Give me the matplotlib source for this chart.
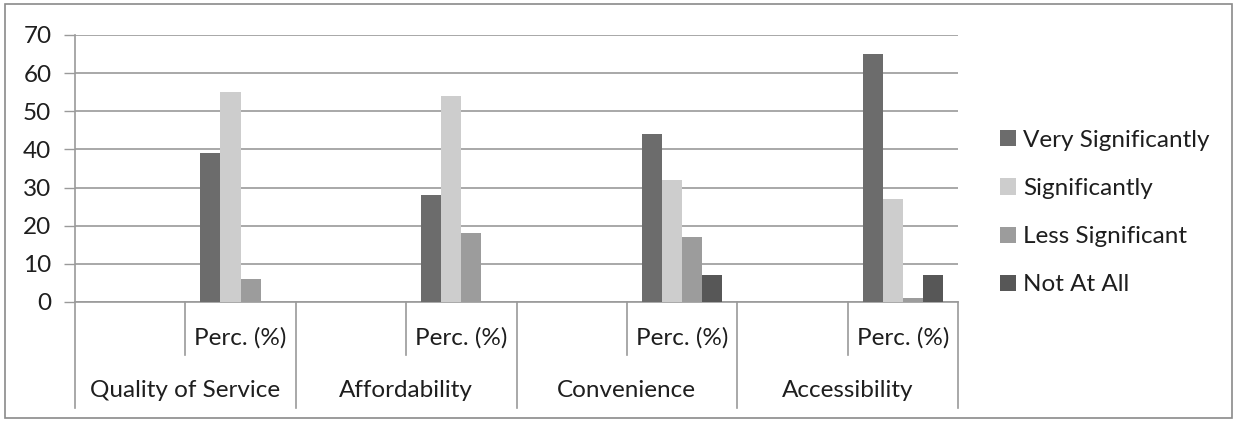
import matplotlib
matplotlib.use("Agg")
import matplotlib.pyplot as plt
from matplotlib.patches import Rectangle
import numpy as np

# Survey responses (percentages) per factor
factors = ["Quality of Service", "Affordability", "Convenience", "Accessibility"]
sub_label = "Perc. (%)"
series_names = ["Very Significantly", "Significantly", "Less Significant", "Not At All"]
very_significantly = [39, 28, 44, 65]
significantly = [55, 54, 32, 27]
less_significant = [6, 18, 17, 1]
not_at_all = [0, 0, 7, 7]
y_ticks = [0, 10, 20, 30, 40, 50, 60, 70]

series_values = [very_significantly, significantly, less_significant, not_at_all]
colors = ["#6c6c6c", "#cdcdcd", "#9c9c9c", "#575757"]

plt.rcParams["font.family"] = ["Lato", "DejaVu Sans"]
text_color = "#1e1e1e"
line_color = "#9a9a9a"
fs = 17.5

fig = plt.figure(figsize=(12.38, 4.22), dpi=100)
ax = fig.add_axes([75 / 1238, 1 - 302 / 422, (958 - 75) / 1238, (302 - 35) / 422])

# Each factor occupies two category slots; data sits in the second ("Perc. (%)")
n_slots = 2 * len(factors)
centers = np.arange(len(factors)) * 2 + 1.5
bar_w = 20 / 110
for i, (name, vals, col) in enumerate(zip(series_names, series_values, colors)):
    ax.bar(centers + (i - 1.5) * bar_w, vals, width=bar_w, color=col,
           label=name, zorder=3, linewidth=0)

ax.set_xlim(0, n_slots)
ax.set_ylim(0, 70)
ax.set_yticks(y_ticks)
ax.tick_params(axis="y", length=8, width=1, color=line_color, labelsize=fs,
               labelcolor=text_color, pad=9)
ax.set_xticks([])
ax.yaxis.grid(True, color=line_color, linewidth=1.2, zorder=0)
for side in ["top", "right"]:
    ax.spines[side].set_visible(False)
for side in ["left", "bottom"]:
    ax.spines[side].set_color(line_color)
    ax.spines[side].set_linewidth(1.2)

# Two-level category axis: short separators between slots, long ones between factors
trans = ax.get_xaxis_transform()
for x in range(n_slots + 1):
    bottom = -0.397 if x % 2 == 0 else -0.1985
    ax.plot([x, x], [0, bottom], color=line_color, lw=1.2, transform=trans,
            clip_on=False)
for k, fac in enumerate(factors):
    ax.text(2 * k + 1.5, -0.135, sub_label, transform=trans, ha="center",
            va="center", fontsize=fs, color=text_color)
    ax.text(2 * k + 1.0, -0.33, fac, transform=trans, ha="center",
            va="center", fontsize=fs, color=text_color)

leg = ax.legend(loc="center left", bbox_to_anchor=(1.023, 0.335), frameon=False,
                fontsize=fs, handlelength=0.65, handleheight=0.65,
                handletextpad=0.3, labelspacing=1.12, labelcolor=text_color)

# Chart border
fig.patches.append(Rectangle((5 / 1238, 4 / 422), 1227 / 1238, 414 / 422,
                             transform=fig.transFigure, fill=False,
                             edgecolor="#8a8a8a", linewidth=1.2))

fig.savefig("out.png", dpi=100)
